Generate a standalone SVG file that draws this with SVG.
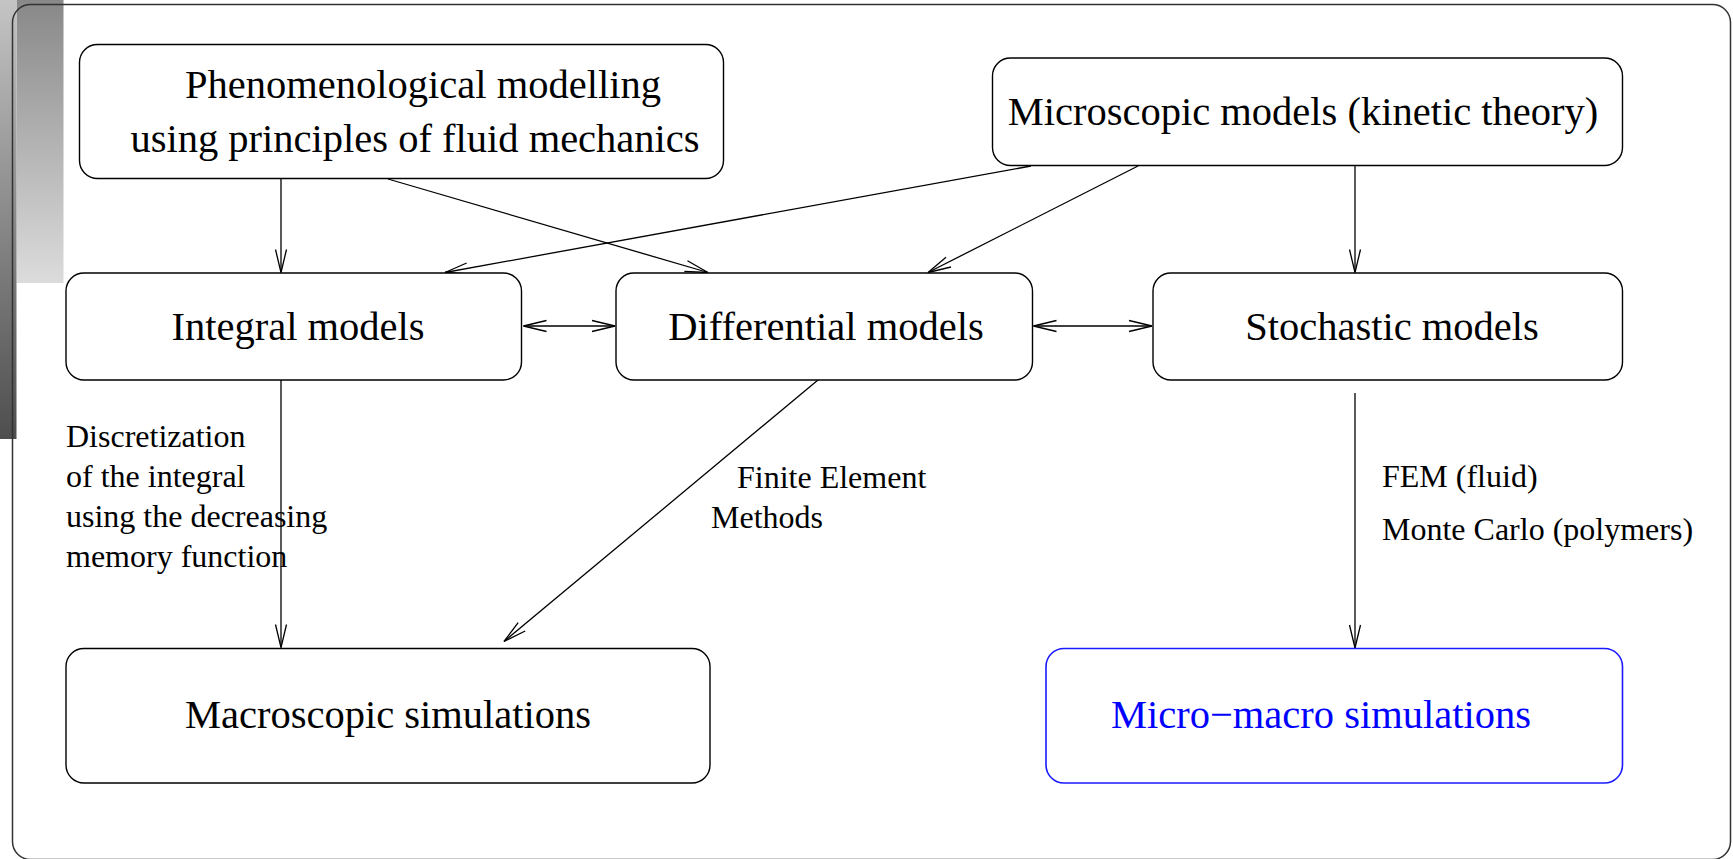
<svg xmlns="http://www.w3.org/2000/svg" width="1733" height="859" viewBox="0 0 1733 859">
<style>
.node{fill:#ffffff;stroke:#000;stroke-width:1.4}
.blue{fill:#ffffff;stroke:#1a1aff;stroke-width:1.6}
.t{font-family:"Liberation Serif","Times New Roman",serif;font-size:40.5px;fill:#000;text-anchor:middle}
.tb{font-family:"Liberation Serif","Times New Roman",serif;font-size:40.5px;fill:#0000ff;text-anchor:middle}
.l{font-family:"Liberation Serif","Times New Roman",serif;font-size:32px;fill:#000}
.c{stroke:#000;stroke-width:1.3;fill:none}
</style>
<defs>
<linearGradient id="gWide" x1="0" y1="0" x2="0" y2="1">
<stop offset="0" stop-color="#888888"/>
<stop offset="1" stop-color="#dcdcdc"/>
</linearGradient>
<linearGradient id="gStrip" x1="0" y1="0" x2="0" y2="1">
<stop offset="0" stop-color="#c4c4c4"/>
<stop offset="1" stop-color="#4e4e4e"/>
</linearGradient>
<marker id="arr" markerUnits="userSpaceOnUse" viewBox="-24 -8 26 16" refX="0" refY="0" markerWidth="26" markerHeight="16" orient="auto-start-reverse">
<path d="M -23 -5.5 L 0 0 L -23 5.5" fill="none" stroke="#000" stroke-width="1.3"/>
</marker>
</defs>
<rect x="0" y="0" width="1733" height="859" fill="#ffffff"/>
<g id="decor">
<rect x="16.5" y="0" width="47" height="283" fill="url(#gWide)"/>
<rect x="0" y="0" width="16.5" height="439" fill="url(#gStrip)"/>
<rect x="12.5" y="4.5" width="1718" height="855" rx="18" ry="18" fill="none" stroke="#333" stroke-width="1.5"/>
</g>
<g id="connectors">
<line class="c" x1="281" y1="179" x2="281" y2="272.5" marker-end="url(#arr)"/>
<line class="c" x1="388" y1="179" x2="708" y2="272.5" marker-end="url(#arr)"/>
<line class="c" x1="1031" y1="166" x2="445" y2="272.5" marker-end="url(#arr)"/>
<line class="c" x1="1138" y1="166" x2="928" y2="272.5" marker-end="url(#arr)"/>
<line class="c" x1="1355" y1="166" x2="1355" y2="272.5" marker-end="url(#arr)"/>
<line class="c" x1="523.5" y1="326" x2="615" y2="326" marker-start="url(#arr)" marker-end="url(#arr)"/>
<line class="c" x1="1033.5" y1="326" x2="1152" y2="326" marker-start="url(#arr)" marker-end="url(#arr)"/>
<line class="c" x1="281" y1="380" x2="281" y2="647.5" marker-end="url(#arr)"/>
<line class="c" x1="824" y1="375" x2="504" y2="641.5" marker-end="url(#arr)"/>
<line class="c" x1="1355" y1="393" x2="1355" y2="648" marker-end="url(#arr)"/>
</g>
<g id="n-phenom">
<rect class="node" x="79.5" y="44.5" width="644" height="134" rx="18" ry="18"/>
<text class="t" x="423" y="98">Phenomenological modelling</text>
<text class="t" x="415" y="152">using principles of fluid mechanics</text>
</g>
<g id="n-micro">
<rect class="node" x="992.5" y="58" width="630" height="107.5" rx="18" ry="18"/>
<text class="t" x="1303" y="125">Microscopic models (kinetic theory)</text>
</g>
<g id="n-integral">
<rect class="node" x="66" y="273" width="455.5" height="107" rx="18" ry="18"/>
<text class="t" x="298" y="340">Integral models</text>
</g>
<g id="n-differential">
<rect class="node" x="616" y="273" width="416.5" height="107" rx="18" ry="18"/>
<text class="t" x="826" y="340">Differential models</text>
</g>
<g id="n-stochastic">
<rect class="node" x="1153" y="273" width="469.5" height="107" rx="18" ry="18"/>
<text class="t" x="1392" y="340">Stochastic models</text>
</g>
<g id="n-macroscopic">
<rect class="node" x="66" y="648.5" width="644" height="134.5" rx="18" ry="18"/>
<text class="t" x="388" y="728">Macroscopic simulations</text>
</g>
<g id="n-micromacro">
<rect class="blue" x="1046" y="648.5" width="576.5" height="134.5" rx="18" ry="18"/>
<text class="tb" x="1321" y="728">Micro−macro simulations</text>
</g>
<g id="labels">
<text class="l" x="66" y="447">Discretization</text>
<text class="l" x="66" y="487">of the integral</text>
<text class="l" x="66" y="527">using the decreasing</text>
<text class="l" x="66" y="567">memory function</text>
<text class="l" x="737" y="488">Finite Element</text>
<text class="l" x="711" y="528">Methods</text>
<text class="l" x="1382" y="487">FEM (fluid)</text>
<text class="l" x="1382" y="540">Monte Carlo (polymers)</text>
</g>
</svg>
